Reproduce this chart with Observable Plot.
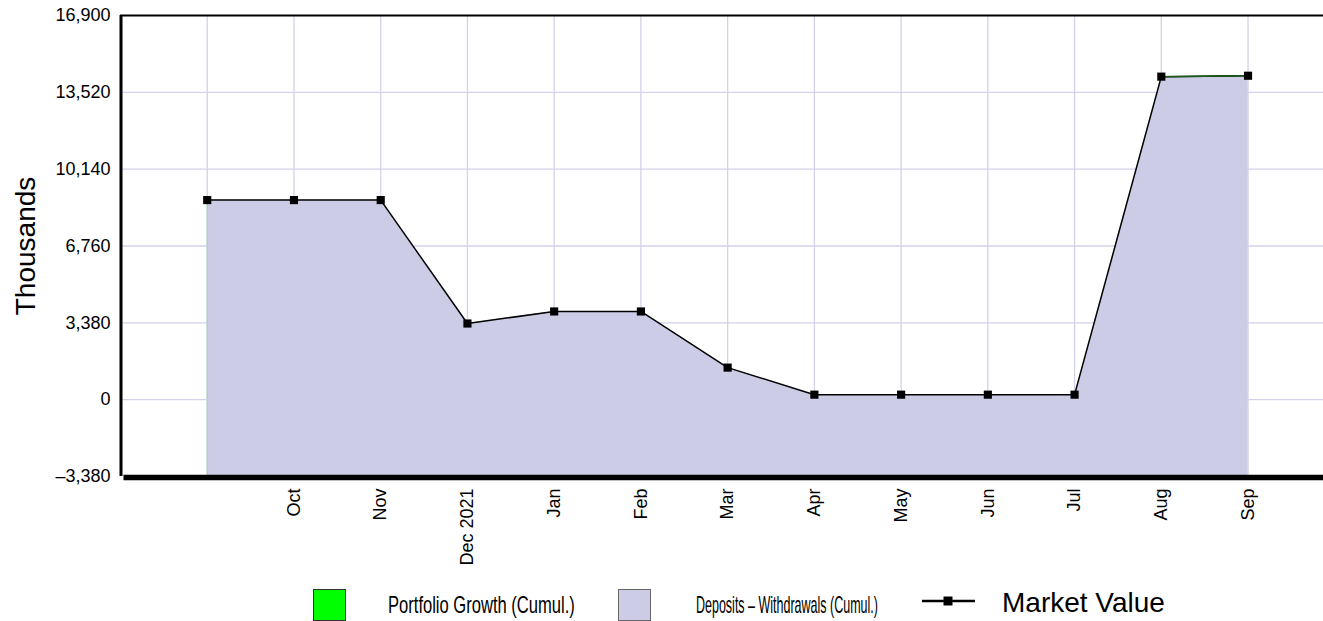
<!DOCTYPE html>
<html><head><meta charset="utf-8">
<script src="https://cdn.jsdelivr.net/npm/d3@7"></script>
<script src="https://cdn.jsdelivr.net/npm/@observablehq/plot@0.6"></script>
<style>
body{margin:0;background:#fff;font-family:"Liberation Sans",Arial,sans-serif;}
#wrap{position:relative;width:1323px;height:621px;overflow:hidden;}
#legend{position:absolute;left:0;top:585px;}
</style></head>
<body><div id="wrap"><div id="chart"></div>
<svg id="legend" width="1323" height="36" font-family="Liberation Sans, Arial, sans-serif">
  <rect x="313.5" y="4.5" width="32" height="31" fill="#00FF00" stroke="#333" stroke-width="1"/>
  <text class="narrow" data-x="388" data-y="28" data-w="187" font-size="24">Portfolio Growth (Cumul.)</text>
  <rect x="618.5" y="4.5" width="32" height="31" fill="#CCCCE6" stroke="#666" stroke-width="1"/>
  <text class="narrow" data-x="696" data-y="28" data-w="182" font-size="23">Deposits – Withdrawals (Cumul.)</text>
  <line x1="922" y1="16" x2="975" y2="16" stroke="#000" stroke-width="2.5"/>
  <rect x="943.5" y="11.5" width="9" height="9" fill="#000"/>
  <text x="1002" y="27" font-size="28">Market Value</text>
</svg></div>
<script>
// month index 0 = Sep 2021 ... 12 = Sep 2022
const monthLabels = ["", "Oct", "Nov", "Dec 2021", "Jan", "Feb", "Mar", "Apr", "May", "Jun", "Jul", "Aug", "Sep"];
const deposits = [8780, 8780, 8780, 3350, 3880, 3880, 1410, 220, 220, 220, 220, 14190, 14220];
const marketValue = [8780, 8780, 8780, 3350, 3880, 3880, 1410, 220, 220, 220, 220, 14210, 14250];
const yTicks = [-3380, 0, 3380, 6760, 10140, 13520, 16900];

const data = monthLabels.map((m, i) => ({i, label: m, dep: deposits[i], mv: marketValue[i]}));
const yMin = -3380, yMax = 16900;
const fmt = v => (v < 0 ? "–" : "") + d3.format(",")(Math.abs(v));

const chart = Plot.plot({
  width: 1323, height: 585,
  marginLeft: 120, marginRight: 0, marginTop: 15, marginBottom: 109,
  style: {fontFamily: "Liberation Sans, Arial, sans-serif", overflow: "visible", background: "#fff"},
  x: {type: "linear", domain: [-1, 12.87], axis: null},
  y: {domain: [yMin, yMax], axis: null},
  marks: [
    Plot.ruleY(yTicks.slice(1, -1), {stroke: "#D2D2EA", strokeWidth: 1.3}),
    Plot.ruleX(data, {x: "i", y1: yMin, y2: yMax, stroke: "#D2D2EA", strokeWidth: 1.3}),
    Plot.areaY(data, {x: "i", y1: yMin, y2: "dep", fill: "#CCCCE6"}),
    Plot.areaY(data, {x: "i", y1: "dep", y2: "mv", fill: "#00FF00"}),
    Plot.ruleX([data[0]], {x: "i", y1: yMin, y2: "dep", stroke: "#99DD99", strokeWidth: 1}),
    Plot.lineY(data, {x: "i", y: "mv", stroke: "#000", strokeWidth: 1.5}),
    Plot.lineY(data.slice(11), {x: "i", y: "mv", stroke: "#1a5a1a", strokeWidth: 1.5}),
    Plot.dot(data, {x: "i", y: "mv", symbol: "square", r: 4.6, fill: "#000", stroke: null}),
    // frame
    Plot.ruleX([-1], {y1: yMin, y2: yMax, stroke: "#000", strokeWidth: 3, dx: 0.5}),
    Plot.ruleY([yMax], {stroke: "#000", strokeWidth: 2.2}),
    Plot.ruleY([yMin], {x1: -0.96, x2: 12.87, stroke: "#000", strokeWidth: 5.5, dy: 1}),
    // axes
    Plot.axisY({ticks: yTicks, tickFormat: fmt, tickSize: 0, tickPadding: 10, fontSize: 18, label: null}),
    Plot.axisX({ticks: d3.range(1, 13), tickFormat: i => monthLabels[i], tickSize: 0, tickPadding: 12, tickRotate: -90, fontSize: 18, label: null}),
    Plot.text(["Thousands"], {frameAnchor: "left", textAnchor: "middle", lineAnchor: "middle", dx: -94, rotate: -90, fontSize: 28, fill: "#000"})
  ]
});
document.getElementById("chart").appendChild(chart);

// condensed legend labels: scale horizontally to the target width
document.querySelectorAll("#legend text.narrow").forEach(t => {
  const natural = t.getComputedTextLength();
  const sx = (+t.dataset.w) / natural;
  t.setAttribute("transform", `translate(${t.dataset.x},${t.dataset.y}) scale(${sx},1)`);
});
</script></body></html>
